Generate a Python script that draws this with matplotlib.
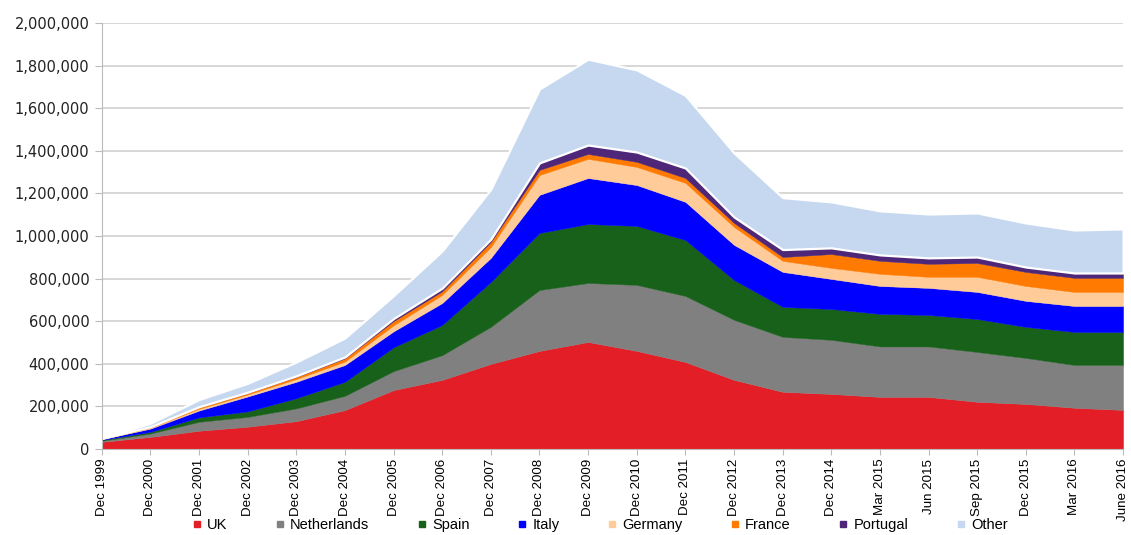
import matplotlib
matplotlib.use("Agg")
import matplotlib.pyplot as plt
import numpy as np
from matplotlib.lines import Line2D
from matplotlib.ticker import FuncFormatter

# quarter-end labels along the x axis
periods = ["Dec 1999", "Dec 2000", "Dec 2001", "Dec 2002", "Dec 2003", "Dec 2004",
           "Dec 2005", "Dec 2006", "Dec 2007", "Dec 2008", "Dec 2009", "Dec 2010",
           "Dec 2011", "Dec 2012", "Dec 2013", "Dec 2014", "Mar 2015", "Jun 2015",
           "Sep 2015", "Dec 2015", "Mar 2016", "June 2016"]

# values in thousands
uk = [33, 56, 85, 104, 130, 182, 276, 324, 399, 460, 502, 460, 408, 324, 268, 258, 244, 244, 221, 211, 193, 183]
netherlands = [5, 16, 42, 46, 60, 67, 89, 116, 174, 286, 277, 310, 310, 282, 258, 254, 237, 237, 234, 216, 201, 211]
spain = [4, 8, 21, 26, 48, 66, 112, 142, 211, 268, 277, 277, 263, 187, 141, 145, 153, 148, 155, 146, 155, 155]
italy = [3, 15, 32, 70, 77, 79, 75, 103, 113, 179, 216, 192, 179, 165, 164, 141, 131, 127, 127, 122, 122, 122]
germany = [2, 4, 8, 9, 13, 16, 28, 38, 51, 93, 90, 85, 89, 84, 52, 52, 57, 52, 71, 70, 66, 66]
france = [1, 3, 7, 7, 10, 15, 20, 17, 24, 24, 23, 24, 23, 19, 18, 65, 61, 61, 65, 66, 66, 66]
portugal = [1, 2, 3, 4, 5, 7, 12, 15, 13, 33, 42, 46, 47, 28, 35, 29, 28, 28, 28, 23, 23, 23]
other = [3, 16, 34, 42, 65, 89, 108, 175, 235, 347, 403, 386, 341, 301, 244, 216, 207, 206, 207, 207, 202, 207]

names = ["UK", "Netherlands", "Spain", "Italy", "Germany", "France", "Portugal", "Other"]
colors = ["#E31E26", "#808080", "#18611A", "#0000FF", "#FFCC99", "#FF7A00", "#4E2778", "#C6D8EF"]
series = [uk, netherlands, spain, italy, germany, france, portugal, other]

plt.rcParams["font.family"] = ["Liberation Sans", "DejaVu Sans"]

fig = plt.figure(figsize=(11.31, 5.35), dpi=100)
ax = fig.add_axes([0.090, 0.161, 0.903, 0.796])

x = np.arange(len(periods))
data = np.array(series, dtype=float) * 1000
cum = np.cumsum(data, axis=0)
base = np.zeros(len(periods))
for i, (name, col) in enumerate(zip(names, colors)):
    top = cum[i]
    if name == "Other":
        ax.fill_between(x, base, top, facecolor=col, edgecolor="white", lw=1.6, zorder=2)
    else:
        ax.fill_between(x, base, top, facecolor=col, edgecolor=col, lw=0.3, zorder=2)
    base = top

ax.set_xlim(0, len(periods) - 1)
ax.set_ylim(0, 2000000)
ax.set_yticks(np.arange(0, 2000001, 200000))
ax.yaxis.set_major_formatter(FuncFormatter(lambda v, p: f"{int(v):,}"))
ax.set_xticks(x)
ax.set_xticklabels(periods, rotation=90, fontsize=9.6)
ax.tick_params(axis="y", labelsize=10.5, length=5, color="#BBBBBB", pad=4, labelcolor="#222222")
ax.tick_params(axis="x", length=4, color="#BBBBBB", pad=3)
for lab in ax.get_yticklabels():
    lab.set_family(["DejaVu Sans"])
ax.grid(axis="y", color="#D4D4D4", lw=1.3, zorder=0)
ax.set_axisbelow(True)
for s in ["top", "right"]:
    ax.spines[s].set_visible(False)
ax.spines["left"].set_color("#BBBBBB")
ax.spines["bottom"].set_color("#BBBBBB")

handles = [Line2D([], [], ls="none", marker="s", ms=5, mfc=c, mec=c) for c in colors]
fig.legend(handles, names, loc="lower center", ncol=8, frameon=False,
           bbox_to_anchor=(0.53, 0.0), fontsize=10.5, handlelength=0.8,
           handletextpad=0.3, columnspacing=3.2, borderpad=0.1, borderaxespad=0.1)

fig.savefig("out.png", dpi=100)
